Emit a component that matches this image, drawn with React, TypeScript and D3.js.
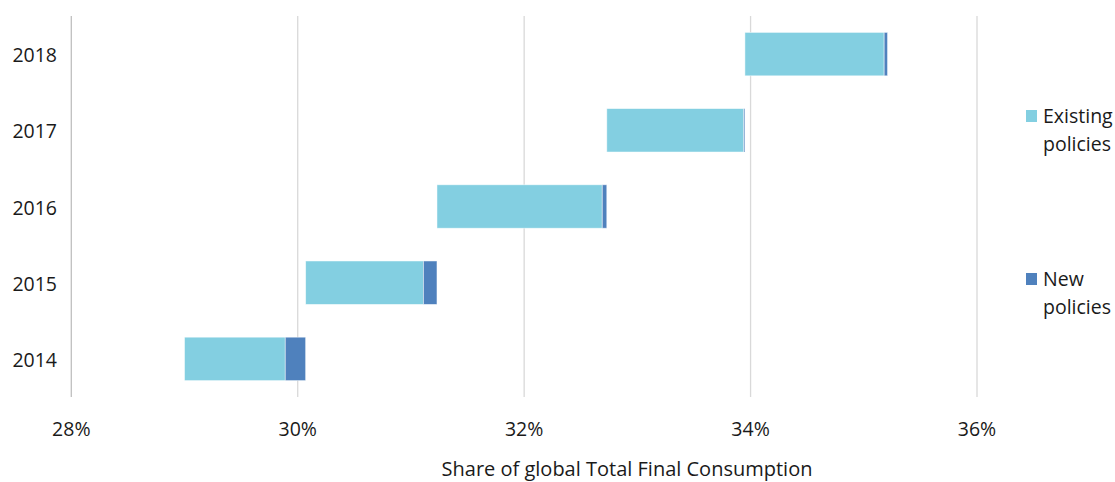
import React, { useEffect, useRef } from 'react';
import * as d3 from 'd3';

const years = ['2014', '2015', '2016', '2017', '2018'];
const startShare = [29.0, 30.07, 31.23, 32.73, 33.95];
const existingPolicies = [0.89, 1.04, 1.46, 1.21, 1.23];
const newPolicies = [0.18, 0.12, 0.04, 0.01, 0.03];
const xTicks = [28, 30, 32, 34, 36];

const seriesNames = ['Existing policies', 'New policies'];
const seriesColors = ['#83cfe1', '#4f81bd'];

const App: React.FC = () => {
  const ref = useRef<SVGSVGElement>(null);

  useEffect(() => {
    if (!ref.current) return;
    const svg = d3.select(ref.current);
    svg.selectAll('*').remove();

    const font = '"Open Sans", "Noto Sans", sans-serif';
    const left = 71.3;
    const right = 977;
    const top = 16;
    const bottom = 397;

    const x = d3.scaleLinear().domain([28, 36]).range([left, right]);
    const y = d3.scaleBand().domain([...years].reverse()).range([top, bottom]).paddingInner(0.43).paddingOuter(0.215);

    // gridlines
    svg.append('g')
      .selectAll('line')
      .data(xTicks)
      .enter()
      .append('line')
      .attr('x1', d => x(d))
      .attr('x2', d => x(d))
      .attr('y1', top)
      .attr('y2', bottom)
      .attr('stroke', d => (d === 28 ? '#bfbfbf' : '#d9d9d9'))
      .attr('stroke-width', 1.3);

    // x tick labels
    svg.append('g')
      .selectAll('text')
      .data(xTicks)
      .enter()
      .append('text')
      .attr('x', d => x(d))
      .attr('y', 436)
      .attr('text-anchor', 'middle')
      .attr('font-family', font)
      .attr('font-size', '19.5px')
      .attr('fill', '#1a1a1a')
      .text(d => `${d}%`);

    // y labels
    svg.append('g')
      .selectAll('text')
      .data(years)
      .enter()
      .append('text')
      .attr('x', 57)
      .attr('y', d => (y(d) as number) + y.bandwidth() / 2 + 8)
      .attr('text-anchor', 'end')
      .attr('font-family', font)
      .attr('font-size', '19.5px')
      .attr('fill', '#1a1a1a')
      .text(d => d);

    // stacked floating bars
    const rows = years.map((yr, i) => ({
      yr,
      segs: [
        { from: startShare[i], to: startShare[i] + existingPolicies[i], color: seriesColors[0] },
        {
          from: startShare[i] + existingPolicies[i],
          to: startShare[i] + existingPolicies[i] + newPolicies[i],
          color: seriesColors[1]
        }
      ]
    }));

    const g = svg.append('g');
    rows.forEach(r => {
      g.selectAll(null)
        .data(r.segs)
        .enter()
        .append('rect')
        .attr('x', d => x(d.from))
        .attr('width', d => Math.max(0, x(d.to) - x(d.from)))
        .attr('y', y(r.yr) as number)
        .attr('height', y.bandwidth())
        .attr('fill', d => d.color)
        .attr('stroke', '#ffffff')
        .attr('stroke-opacity', 0.6)
        .attr('stroke-width', 0.8);
    });

    // legend
    const legendY = [110, 273];
    seriesNames.forEach((name, i) => {
      const lg = svg.append('g').attr('transform', `translate(1026,${legendY[i]})`);
      lg.append('rect').attr('width', 11).attr('height', 12).attr('fill', seriesColors[i]);
      const words = name.split(' ');
      words.forEach((w, j) => {
        lg.append('text')
          .attr('x', 17)
          .attr('y', 13 + j * 28)
          .attr('font-family', font)
          .attr('font-size', '19.5px')
          .attr('fill', '#1a1a1a')
          .text(w);
      });
    });

    // axis title
    svg.append('text')
      .attr('x', 627)
      .attr('y', 476)
      .attr('text-anchor', 'middle')
      .attr('font-family', font)
      .attr('font-size', '20px')
      .attr('fill', '#1a1a1a')
      .text('Share of global Total Final Consumption');
  }, []);

  return (
    <svg
      ref={ref}
      width={1115}
      height={482}
      style={{ position: 'absolute', left: 0, top: 0, background: '#ffffff' }}
    />
  );
};

export default App;
